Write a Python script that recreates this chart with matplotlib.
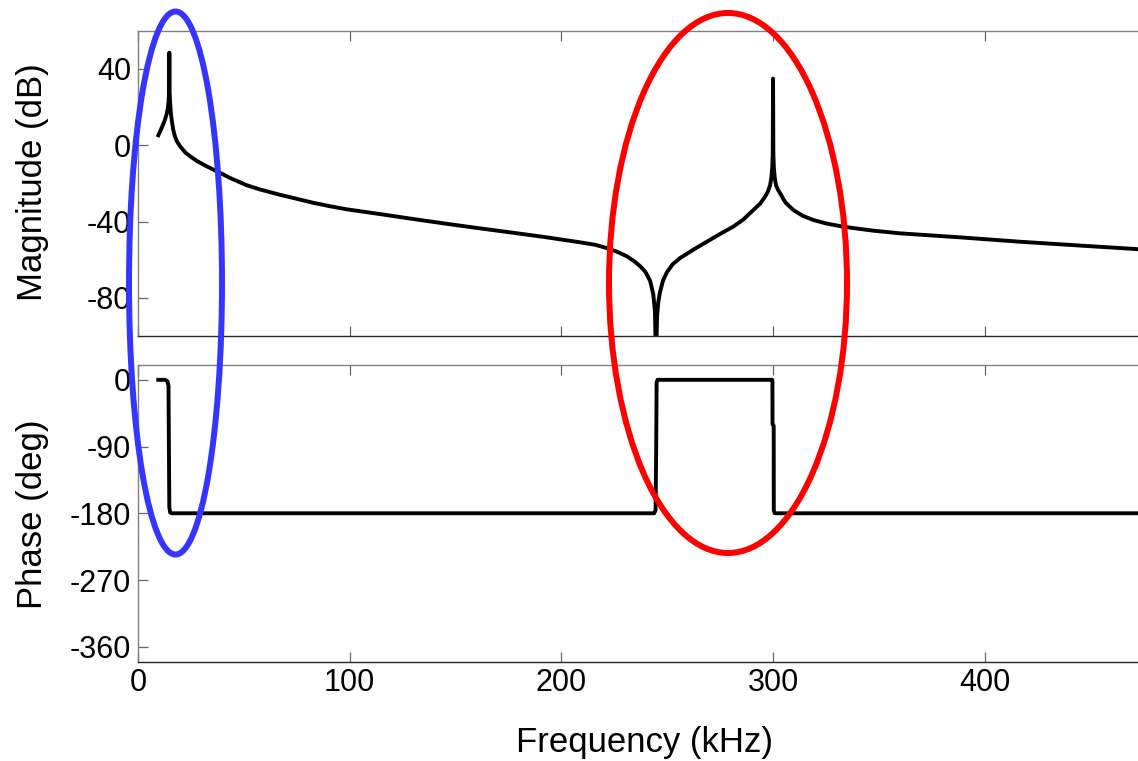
import matplotlib
matplotlib.use("Agg")
import matplotlib.pyplot as plt
from matplotlib.patches import Ellipse

plt.rcParams['font.family'] = ['Liberation Sans', 'DejaVu Sans']
plt.rcParams['axes.unicode_minus'] = False

# Magnitude response (kHz, dB)
mag_freq = [9.6, 10.5, 11.5, 12.3, 13.0, 13.6, 14.1, 14.45, 14.7, 14.8, 14.9, 15.2,
            15.5, 16.0, 16.7, 17.4, 18.3, 19.8, 22.5, 24.6, 27.7, 32.3, 35.6, 39.7,
            43.5, 51.4, 57.6, 67.1, 76.5, 82.8, 90.7, 98.6, 114.3, 130.1, 145.8,
            161.6, 177.3, 193.1, 208.8, 216.0, 221.4, 226.0, 230.9, 234.5, 237.2,
            239.7, 241.9, 243.4, 244.2, 244.7, 245.2, 245.8, 246.6, 248.0, 249.8,
            252.5, 256.0, 262.0, 268.7, 275.0, 281.2, 286.0, 290.7, 294.0, 296.2,
            297.5, 298.6, 299.2, 299.6, 299.85, 300.0, 300.15, 300.4, 300.8, 301.4,
            302.4, 303.4, 305.0, 306.0, 309.6, 314.0, 319.0, 325.0, 331.6, 339.0,
            347.4, 360.0, 388.3, 416.7, 445.0, 472.4]
mag_db = [5.2, 7.3, 9.9, 12.0, 14.3, 16.6, 19.5, 23.0, 28.0, 48.5, 28.0, 22.0,
          17.0, 12.5, 7.8, 4.8, 2.2, -0.5, -4.0, -5.8, -8.2, -11.0, -12.8, -15.0,
          -17.2, -21.0, -23.2, -26.0, -28.5, -30.2, -32.0, -33.6, -36.1, -38.7, -41.2,
          -43.6, -45.9, -48.3, -50.9, -52.2, -53.9, -55.7, -58.2, -60.9, -63.4,
          -66.4, -71.0, -78.0, -87.0, -115.0, -90.0, -82.0, -77.0, -71.0, -66.7,
          -62.5, -59.2, -55.0, -50.6, -46.5, -42.7, -38.9, -34.0, -30.5, -27.0,
          -24.5, -21.0, -17.0, -12.0, -5.0, 34.9, -5.0, -12.0, -17.0, -21.0,
          -23.5, -25.3, -28.5, -30.2, -34.0, -37.0, -39.2, -41.0, -42.4, -43.6,
          -44.8, -46.2, -48.3, -50.6, -52.6, -54.5]

# Phase response (kHz, deg)
phase_freq = [9.6, 12.8, 13.9, 14.4, 14.6, 14.8, 15.2, 16.0, 243.8, 244.5, 244.8,
              245.0, 245.4, 299.6, 299.7, 299.75, 300.3, 300.35, 300.8, 472.4]
phase_deg = [0, 0, -2, -8, -90, -172, -179, -180, -180, -176, -90,
             -4, 0, 0, -2, -60, -62, -176, -180, -180]

mag_ticks = [-80, -40, 0, 40]
phase_ticks = [-360, -270, -180, -90, 0]
freq_ticks = [0, 100, 200, 300, 400]

W, H = 1138, 761
fig = plt.figure(figsize=(W / 100, H / 100), dpi=100)

ax1 = fig.add_axes([138 / W, 1 - 336 / H, 1 - 138 / W, (336 - 30.7) / H])
ax2 = fig.add_axes([138 / W, 1 - 662.3 / H, 1 - 138 / W, (662.3 - 365) / H])

ax1.plot(mag_freq, mag_db, color='black', lw=2.8, solid_joinstyle='round')
ax2.plot(phase_freq, phase_deg, color='black', lw=2.8, solid_joinstyle='round')

ax1.set_ylim(-100, 60)
ax2.set_ylim(-381, 20)
for ax in (ax1, ax2):
    ax.set_xlim(0, 472.4)
    ax.set_xticks(freq_ticks)
    ax.tick_params(direction='in', length=7, width=0.9, color='#666666',
                   labelsize=22, pad=5, top=True, bottom=True, left=True, right=False)
    ax.spines['right'].set_visible(False)
    ax.spines['top'].set_color('#808080')
    ax.spines['left'].set_color('#808080')
    ax.spines['bottom'].set_color('#262626')
    for s in ('top', 'left', 'bottom'):
        ax.spines[s].set_linewidth(1.0)

ax1.set_yticks(mag_ticks)
ax1.tick_params(labelbottom=False)
ax2.set_yticks(phase_ticks)
ax2.tick_params(axis='x', pad=4)

fig.text(33 / W, 1 - 182 / H, 'Magnitude (dB)', rotation=90, ha='center', va='center', fontsize=25)
fig.text(33 / W, 1 - 514 / H, 'Phase (deg)', rotation=90, ha='center', va='center', fontsize=25)
fig.text(645 / W, 1 - 752 / H, 'Frequency (kHz)', ha='center', va='baseline', fontsize=25)

# highlight rings around the low- and high-frequency resonances
blue_ring = Ellipse((175.5 / W, 1 - 283 / H), 93 / W, 543 / H, transform=fig.transFigure,
                    fill=False, edgecolor='#3535FF', lw=4.3, zorder=10, clip_on=False)
red_ring = Ellipse((728 / W, 1 - 283 / H), 238 / W, 540 / H, transform=fig.transFigure,
                   fill=False, edgecolor='#FF0000', lw=4.3, zorder=10, clip_on=False)
fig.add_artist(blue_ring)
fig.add_artist(red_ring)

fig.savefig('out.png', dpi=100)
